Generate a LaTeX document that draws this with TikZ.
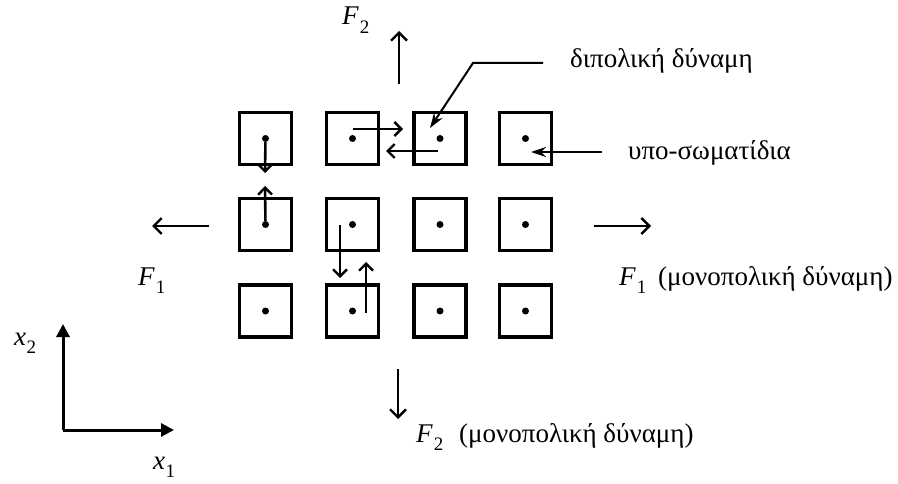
\documentclass[tikz,border=0pt]{standalone}
\usepackage{fontspec}
\setmainfont{Liberation Serif}
\usetikzlibrary{arrows.meta}
\newcommand{\Fs}[1]{\textit{F}\kern1pt\raisebox{-0.33em}{\fontsize{19}{19}\selectfont #1}}
\newcommand{\Xs}[1]{\textit{x}\kern0.5pt\raisebox{-0.33em}{\fontsize{19}{19}\selectfont #1}}
\begin{document}
\begin{tikzpicture}[x=1pt,y=-1pt,
  cell/.style={draw,line width=3.2pt,minimum size=52pt,inner sep=0pt},
  pt/.style={fill,circle,inner sep=0pt,minimum size=7pt},
  barb/.style={line width=2.6pt,-{Straight Barb[length=7pt,width=14pt,line width=2.4pt]}},
  force/.style={line width=2.6pt,-{Straight Barb[length=8pt,width=16pt,line width=2.4pt]}},
  lead/.style={line width=2pt,-{Stealth[length=15pt,width=10pt]}},
  axis/.style={line width=3pt,-{Triangle[length=13pt,width=13pt]}},
  flbl/.style={font=\fontsize{27}{27}\selectfont,inner sep=0pt,anchor=base west},
  glbl/.style={font=\fontsize{27}{30}\selectfont,inner sep=0pt,anchor=base west}]
\useasboundingbox (0,0) rectangle (898,484);
% grid of sub-particles: columns x, rows y
\foreach \c/\x in {1/265.5,2/352.5,3/440,4/525.5}{
  \foreach \r/\y in {1/138.5,2/224.5,3/311}{
    \node[cell] (s\r\c) at (\x,\y) {};
    \node[pt] (d\r\c) at (\x,\y) {};
  }}
% dipole pairs between neighbours
\coordinate (a1) at (265,173);
\coordinate (a2) at (265,186);
\draw[barb] (d11) -- (a1);
\draw[barb] (d21) -- (a2);
\coordinate (b0) at (353,129);
\coordinate (b1) at (403,129);
\coordinate (b2) at (438,151);
\coordinate (b3) at (386,151);
\draw[barb] (b0) -- (b1);
\draw[barb] (b2) -- (b3);
\coordinate (c0) at (340,225);
\coordinate (c1) at (340,278);
\coordinate (c2) at (366,313);
\coordinate (c3) at (366,262);
\draw[barb] (c0) -- (c1);
\draw[barb] (c2) -- (c3);
% labels with leaders
\node[glbl] (dip) at (570,68) {διπολική δύναμη};
\coordinate (l0) at (543,63);
\coordinate (l1) at (473,63);
\coordinate (l2) at (430,128);
\draw[lead] (l0) -- (l1) -- (l2);
\node[glbl] (sub) at (628,160) {υπο-σωματίδια};
\coordinate (m0) at (602,152);
\coordinate (m1) at (531,152);
\draw[lead] (m0) -- (m1);
% monopole forces
\coordinate (t0) at (399,84);
\coordinate (t1) at (399,31);
\draw[force] (t0) -- (t1);
\node[flbl] (f2t) at (342,25) {\Fs{2}};
\coordinate (w0) at (209,226);
\coordinate (w1) at (152,226);
\draw[force] (w0) -- (w1);
\node[flbl] (f1l) at (138,285) {\Fs{1}};
\coordinate (e0) at (594,226);
\coordinate (e1) at (651,226);
\draw[force] (e0) -- (e1);
\node[flbl] (f1r) at (619,285) {\Fs{1}};
\node[glbl] (mr) at (658,285) {(μονοπολική δύναμη)};
\coordinate (s0) at (398,369);
\coordinate (s1) at (398,419);
\draw[force] (s0) -- (s1);
\node[flbl] (f2b) at (416,442) {\Fs{2}};
\node[glbl] (mb) at (459,442) {(μονοπολική δύναμη)};
% coordinate axes
\coordinate (o) at (63,430);
\coordinate (ox) at (174,430);
\coordinate (oy) at (63,324);
\draw[axis] (o) -- (oy);
\draw[axis] (o) -- (ox);
\node[flbl] (x2) at (14,345) {\Xs{2}};
\node[flbl] (x1) at (153,469) {\Xs{1}};
\end{tikzpicture}
\end{document}
